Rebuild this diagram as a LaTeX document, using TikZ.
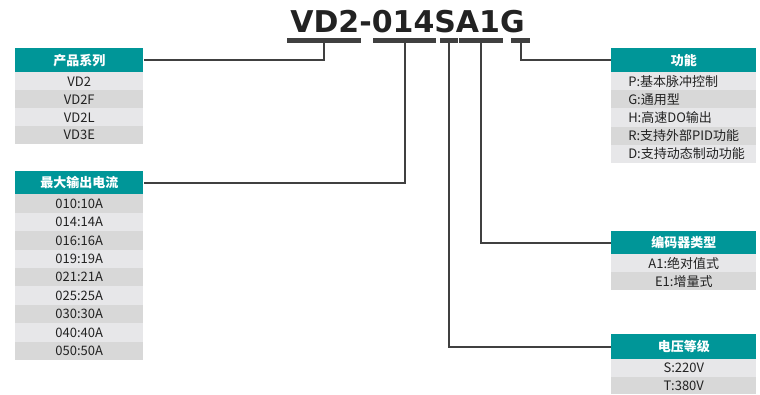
\documentclass[tikz,border=0pt]{standalone}
\usepackage{fontspec}
\setmainfont{Noto Sans CJK SC}
\newfontfamily\titlefont{DejaVu Sans}
\definecolor{hdrteal}{RGB}{0,150,152}
\definecolor{rowlt}{RGB}{231,231,233}
\definecolor{rowdk}{RGB}{216,216,216}
\definecolor{linegray}{RGB}{64,64,64}
\definecolor{txt}{RGB}{34,34,34}
\begin{document}
\begin{tikzpicture}[x=0.75pt,y=-0.75pt,
  hdr/.style={fill=hdrteal, text=white, font=\fontsize{9.75}{11}\selectfont\bfseries,
    inner sep=0pt, anchor=north west},
  rowbox/.style={text=txt, font=\fontsize{9.75}{11}\selectfont, inner sep=0pt, anchor=north west},
  rowtext/.style={text=txt, font=\fontsize{9.75}{11}\selectfont, inner sep=0pt, anchor=west},
  conn/.style={draw=linegray, line width=1.5pt},
  bar/.style={fill=linegray, inner sep=0pt, minimum height=3.75pt}]
\useasboundingbox (0,0) rectangle (760,394);

% title
\node[font=\titlefont\bfseries\fontsize{22.5}{27}\selectfont, anchor=base, inner sep=0pt, text=txt] (title) at (407.5,32) {VD2-014SA1G};

% underline bars
\node[bar, minimum width=55.5pt] (b1) at (324,40) {};
\node[bar, minimum width=47.25pt] (b2) at (404.5,40) {};
\node[bar, minimum width=13.5pt] (b3) at (449,40) {};
\node[bar, minimum width=33pt] (b4) at (481,40) {};
\node[bar, minimum width=14.25pt] (b5) at (520.5,40) {};

% box 1: product series
\node[hdr, minimum width=96pt, minimum height=18pt] (h1) at (15,48) {产品系列};
\foreach \t/\c [count=\i] in {VD2/rowlt,VD2F/rowdk,VD2L/rowlt,VD3E/rowdk}
  \node[rowbox, fill=\c, minimum width=96pt, minimum height=13.5pt] (a\i) at (15,{72+18*(\i-1)}) {\t};

% box 2: max output current
\node[hdr, minimum width=96pt, minimum height=17.25pt] (h2) at (15,171) {最大输出电流};
\foreach \t/\c [count=\i] in {010:10A/rowdk,014:14A/rowlt,016:16A/rowdk,019:19A/rowlt,021:21A/rowdk,025:25A/rowlt,030:30A/rowdk,040:40A/rowlt,050:50A/rowdk}
  \node[rowbox, fill=\c, minimum width=96pt, minimum height=13.83pt] (c\i) at (15,{194+18.44*(\i-1)}) {\t};

% function box
\node[hdr, minimum width=108.75pt, minimum height=18pt] (hf) at (611,48) {功能};
\foreach \t/\c [count=\i] in {P:基本脉冲控制/rowlt,G:通用型/rowdk,H:高速DO输出/rowlt,R:支持外部PID功能/rowdk,D:支持动态制动功能/rowlt}{
  \fill[\c] (611,{72+18.2*(\i-1)}) rectangle (756,{72+18.2*\i});
  \node[rowtext] (f\i) at (628,{72+18.2*(\i-0.5)}) {\t};
}

% encoder box
\node[hdr, minimum width=108.75pt, minimum height=17.25pt] (he) at (611,231) {编码器类型};
\foreach \t/\c [count=\i] in {A1:绝对值式/rowlt,E1:增量式/rowdk}
  \node[rowbox, fill=\c, minimum width=108.75pt, minimum height=13.5pt] (e\i) at (611,{254+18*(\i-1)}) {\t};

% voltage box
\node[hdr, minimum width=108.75pt, minimum height=18.75pt] (hv) at (611,334) {电压等级};
\foreach \t/\c [count=\i] in {S:220V/rowlt,T:380V/rowdk}
  \node[rowbox, fill=\c, minimum width=108.75pt, minimum height=13.125pt] (v\i) at (611,{359+17.5*(\i-1)}) {\t};

% connectors
\draw[conn] (b1.south) |- (h1.east);
\draw[conn] (b2.south) |- (h2.east);
\draw[conn] (b3.south) |- (hv.west);
\draw[conn] (b4.south) |- (he.west);
\draw[conn] (b5.south) |- (hf.west);
\end{tikzpicture}
\end{document}
